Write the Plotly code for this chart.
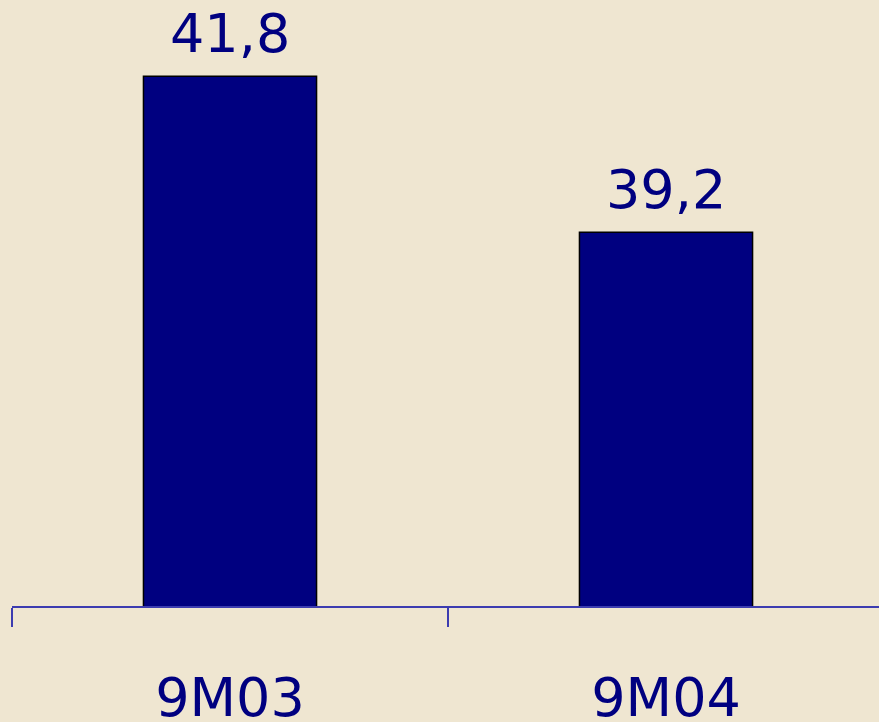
import plotly.graph_objects as go

categories = ["9M03", "9M04"]
values = [41.8, 39.2]
value_labels = ["41,8", "39,2"]

BG = "#EFE6D1"
NAVY = "#000080"
AXIS = "#3C3CB0"
FONT = "DejaVu Sans"

fig = go.Figure()
fig.add_trace(go.Bar(
    x=categories, y=values,
    marker=dict(color=NAVY, line=dict(color="black", width=1.5)),
    width=0.397,
    showlegend=False,
    hoverinfo="skip",
))

for c, v, t in zip(categories, values, value_labels):
    fig.add_annotation(x=c, y=v, text=t, showarrow=False, yanchor="bottom",
                       yshift=9, font=dict(family=FONT, size=54, color=NAVY))

fig.update_layout(
    width=879, height=722,
    margin=dict(l=12, r=0, t=0, b=116, autoexpand=False),
    paper_bgcolor=BG, plot_bgcolor=BG,
    xaxis=dict(
        type="category", range=[-0.5, 1.4885],
        showline=True, linecolor=AXIS, linewidth=2,
        ticks="outside", tickson="boundaries", ticklen=19, tickwidth=2, tickcolor=AXIS,
        tickfont=dict(family=FONT, size=54, color=NAVY),
        ticklabelstandoff=43, automargin=False,
        showgrid=False, zeroline=False,
    ),
    yaxis=dict(
        range=[32.97, 32.97 + 606 / 60],
        visible=False, showgrid=False, zeroline=False,
    ),
)

fig.write_html(
    "out.html",
    config={"displayModeBar": False},
    post_script="document.body.style.margin='0';document.body.style.background='%s';" % BG,
)
